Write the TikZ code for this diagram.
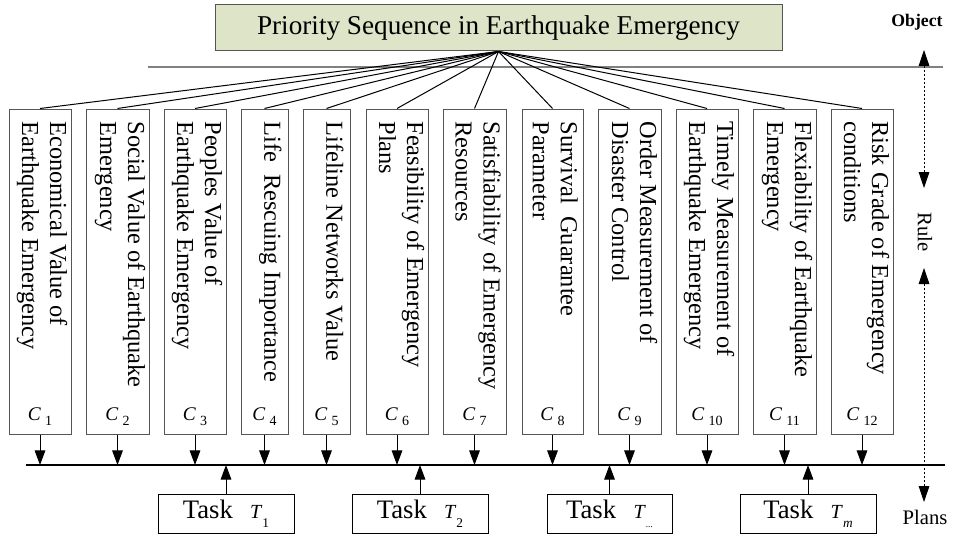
\documentclass[tikz,border=0pt]{standalone}
\usepackage{fontspec}
\setmainfont{Liberation Serif}
\usetikzlibrary{arrows.meta,fit}

\definecolor{titlegreen}{RGB}{221,228,200}
\definecolor{boxgray}{RGB}{85,85,85}

% criterion and task labels
\newcommand{\critlab}[1]{\textit{C}\hspace{3pt}\raisebox{-0.55ex}{\fontsize{10.5}{10.5}\selectfont #1}}
\newcommand{\tasklab}[1]{Task\hspace{13pt}{\fontsize{15}{15}\selectfont\textit{T}}\raisebox{-0.75ex}{\fontsize{10}{10}\selectfont #1}}

\begin{document}
\begin{tikzpicture}[x=0.75pt, y=-0.75pt,
    titlebox/.style={draw=boxgray, fill=titlegreen, line width=0.75pt, inner sep=0pt, minimum width=425.25pt, minimum height=34.5pt, font=\fontsize{20.4}{22}\selectfont},
    cbox/.style={draw=boxgray, line width=0.75pt, inner sep=0pt},
    ctext/.style={rotate=-90, anchor=north west, align=left, inner sep=0pt, font=\fontsize{18.3}{21}\selectfont},
    clabel/.style={anchor=base, inner sep=0pt, font=\fontsize{14.5}{15}\selectfont},
    taskbox/.style={draw=black, line width=0.75pt, inner sep=0pt, minimum width=102pt, minimum height=29.25pt, font=\fontsize{20}{22}\selectfont},
    flow/.style={line width=0.75pt, -{Triangle[width=8pt,length=11pt]}},
    guide/.style={line width=0.6pt, dash pattern=on 2pt off 1pt, {Triangle[width=8pt,length=12pt]}-{Triangle[width=8pt,length=12pt]}},
    side/.style={inner sep=0pt, font=\fontsize{15.5}{16}\selectfont}]
    \useasboundingbox (0,0) rectangle (959,535);

    % Obiettivo
    \node[titlebox] (title) at (498.5,28) {Priority Sequence in Earthquake Emergency};
    \coordinate (ruleL) at (148,67);
    \coordinate (ruleR) at (943,67);
    \draw[gray, line width=1pt] (ruleL) -- (ruleR);

    % Criteri
    \node[cbox, fit={(9,109) (71,434)}] (c1) {};
    \node[cbox, fit={(86,109) (149,434)}] (c2) {};
    \node[cbox, fit={(164,109) (226,434)}] (c3) {};
    \node[cbox, fit={(241,109) (288,434)}] (c4) {};
    \node[cbox, fit={(303,109) (350,434)}] (c5) {};
    \node[cbox, fit={(366,109) (428,434)}] (c6) {};
    \node[cbox, fit={(443,109) (506,434)}] (c7) {};
    \node[cbox, fit={(522,109) (583,434)}] (c8) {};
    \node[cbox, fit={(598,109) (661,434)}] (c9) {};
    \node[cbox, fit={(676,109) (738,434)}] (c10) {};
    \node[cbox, fit={(753,109) (816,434)}] (c11) {};
    \node[cbox, fit={(831,109) (893,434)}] (c12) {};

    \node[ctext] (c1text) at ([xshift=-3pt, yshift=-9.5pt]c1.north east) {Economical Value of\\Earthquake Emergency};
    \node[ctext] (c2text) at ([xshift=-3pt, yshift=-9.5pt]c2.north east) {Social Value of Earthquake\\Emergency};
    \node[ctext] (c3text) at ([xshift=-3pt, yshift=-9.5pt]c3.north east) {Peoples Value of\\Earthquake Emergency};
    \node[ctext] (c4text) at ([xshift=-5pt, yshift=-9.5pt]c4.north east) {Life\ \ Rescuing Importance};
    \node[ctext] (c5text) at ([xshift=-5pt, yshift=-9.5pt]c5.north east) {Lifeline Networks Value};
    \node[ctext] (c6text) at ([xshift=-3pt, yshift=-9.5pt]c6.north east) {Feasibility of Emergency\\Plans};
    \node[ctext] (c7text) at ([xshift=-4pt, yshift=-9.5pt]c7.north east) {Satisfiability of Emergency\\Resources};
    \node[ctext] (c8text) at ([xshift=-4pt, yshift=-9.5pt]c8.north east) {Survival\ \ Guarantee\\Parameter};
    \node[ctext] (c9text) at ([xshift=-3pt, yshift=-9.5pt]c9.north east) {Order Measurement of\\Disaster Control};
    \node[ctext] (c10text) at ([xshift=-3pt, yshift=-9.5pt]c10.north east) {Timely Measurement of\\Earthquake Emergency};
    \node[ctext] (c11text) at ([xshift=-3pt, yshift=-9.5pt]c11.north east) {Flexiability of Earthquake\\Emergency};
    \node[ctext] (c12text) at ([xshift=-3pt, yshift=-9.5pt]c12.north east) {Risk Grade of Emergency\\conditions};

    \node[clabel] (c1lab) at ([yshift=10.5pt]c1.south) {\critlab{1}};
    \node[clabel] (c2lab) at ([yshift=10.5pt]c2.south) {\critlab{2}};
    \node[clabel] (c3lab) at ([yshift=10.5pt]c3.south) {\critlab{3}};
    \node[clabel] (c4lab) at ([yshift=10.5pt]c4.south) {\critlab{4}};
    \node[clabel] (c5lab) at ([yshift=10.5pt]c5.south) {\critlab{5}};
    \node[clabel] (c6lab) at ([yshift=10.5pt]c6.south) {\critlab{6}};
    \node[clabel] (c7lab) at ([yshift=10.5pt]c7.south) {\critlab{7}};
    \node[clabel] (c8lab) at ([yshift=10.5pt]c8.south) {\critlab{8}};
    \node[clabel] (c9lab) at ([yshift=10.5pt]c9.south) {\critlab{9}};
    \node[clabel] (c10lab) at ([yshift=10.5pt]c10.south) {\critlab{10}};
    \node[clabel] (c11lab) at ([yshift=10.5pt]c11.south) {\critlab{11}};
    \node[clabel] (c12lab) at ([yshift=10.5pt]c12.south) {\critlab{12}};

    % Linee dall'obiettivo ai criteri
    \draw[line width=0.75pt] (title.south) -- (c1.north);
    \draw[line width=0.75pt] (title.south) -- (c2.north);
    \draw[line width=0.75pt] (title.south) -- (c3.north);
    \draw[line width=0.75pt] (title.south) -- (c4.north);
    \draw[line width=0.75pt] (title.south) -- (c5.north);
    \draw[line width=0.75pt] (title.south) -- (c6.north);
    \draw[line width=0.75pt] (title.south) -- (c7.north);
    \draw[line width=0.75pt] (title.south) -- (c8.north);
    \draw[line width=0.75pt] (title.south) -- (c9.north);
    \draw[line width=0.75pt] (title.south) -- (c10.north);
    \draw[line width=0.75pt] (title.south) -- (c11.north);
    \draw[line width=0.75pt] (title.south) -- (c12.north);

    % Barra dei piani
    \coordinate (busL) at (26,465);
    \coordinate (busR) at (945,465);
    \draw[line width=0.8pt] (busL) -- (busR);

    \draw[flow] (c1.south) -- (c1.south |- busL);
    \draw[flow] (c2.south) -- (c2.south |- busL);
    \draw[flow] (c3.south) -- (c3.south |- busL);
    \draw[flow] (c4.south) -- (c4.south |- busL);
    \draw[flow] (c5.south) -- (c5.south |- busL);
    \draw[flow] (c6.south) -- (c6.south |- busL);
    \draw[flow] (c7.south) -- (c7.south |- busL);
    \draw[flow] (c8.south) -- (c8.south |- busL);
    \draw[flow] (c9.south) -- (c9.south |- busL);
    \draw[flow] (c10.south) -- (c10.south |- busL);
    \draw[flow] (c11.south) -- (c11.south |- busL);
    \draw[flow] (c12.south) -- (c12.south |- busL);

    % Task
    \node[taskbox] (t1) at (226,513.5) {\tasklab{1}};
    \node[taskbox] (t2) at (420,513.5) {\tasklab{2}};
    \node[taskbox, minimum width=93.75pt] (tdots) at (609.5,513.5) {\tasklab{\fontsize{7}{7}\selectfont ...}};
    \node[taskbox] (tm) at (808,513.5) {\tasklab{\textit{m}}};

    \draw[flow] (t1.north) -- (t1.north |- busL);
    \draw[flow] (t2.north) -- (t2.north |- busL);
    \draw[flow] (tdots.north) -- (tdots.north |- busL);
    \draw[flow] (tm.north) -- (tm.north |- busL);

    % Livelli a destra
    \node[side, font=\bfseries\fontsize{13.3}{14}\selectfont] (object) at (917,22) {Object};
    \node[side, rotate=-90] (rule) at (925,232) {Rule};
    \node[side] (plans) at (925,517) {Plans};
    \coordinate (g1) at (924,50);
    \coordinate (g2) at (924,188);
    \coordinate (g3) at (924,268);
    \coordinate (g4) at (924,502);
    \draw[guide] (g1) -- (g2);
    \draw[guide] (g3) -- (g4);

\end{tikzpicture}
\end{document}
